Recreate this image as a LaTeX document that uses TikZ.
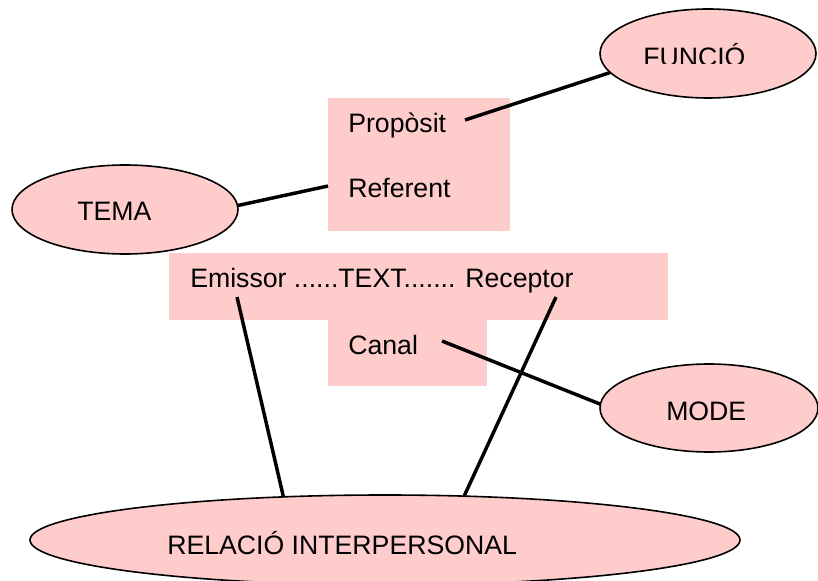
\documentclass[tikz,border=0pt]{standalone}
\usepackage{fontspec}
\setmainfont{Liberation Sans}
\usetikzlibrary{shapes.geometric}
\definecolor{rosa}{HTML}{FFCCCC}
\tikzset{
  oval/.style={ellipse, draw=black, line width=1.2pt, fill=rosa, inner sep=0pt, outer sep=0pt},
  tag/.style={anchor=base west, inner sep=0pt, font=\fontsize{20}{24}\selectfont},
  link/.style={draw=black, line width=2.6pt},
  panel/.style={fill=rosa}
}
\begin{document}
\begin{tikzpicture}[x=0.75pt, y=-0.75pt]
\useasboundingbox (0,0) rectangle (818,581);
\clip (0,0) rectangle (818,581);

% pink text panels
\fill[panel] (328,98) rectangle (510,231);
\fill[panel] (169,253) rectangle (668,320);
\fill[panel] (328,319) rectangle (487,386);

% ellipses
\node[oval, minimum width=162pt, minimum height=66.75pt] (funcio) at (708,53.5) {};
\node[oval, minimum width=169.5pt, minimum height=66.75pt] (tema) at (125,209.5) {};
\node[oval, minimum width=163.5pt, minimum height=66pt] (mode) at (709,408) {};
\node[oval, minimum width=532.5pt, minimum height=67.5pt] (relacio) at (385,540) {};

% connector starting points inside the panels
\coordinate (cProp) at (465,120);
\coordinate (cRef) at (328,186);
\coordinate (cEmi) at (237,297);
\coordinate (cRec) at (556,297);
\coordinate (cCan) at (442,341);

% connectors
\draw[link] (cProp) -- (funcio.191);
\draw[link] (cRef) -- (tema.2);
\draw[link] (cEmi) -- (relacio.157);
\draw[link] (cRec) -- (relacio.29);
\draw[link] (cCan) -- (mode.178);

% panel texts
\node[tag] (tProp) at (348,133) {Propòsit};
\node[tag] (tRef) at (348,198) {Referent};
\node[tag] (tText) at (190,287) {Emissor ......TEXT....... Receptor};
\node[tag] (tCan) at (348,354) {Canal};

% ellipse texts
\node[tag] (tTema) at (77,221) {TEMA};
\node[tag] (tMode) at (666,420) {MODE};
\node[tag] (tRel) at (167,554) {RELACIÓ INTERPERSONAL};
\begin{scope}
  \clip (600,0) rectangle (818,64);
  \node[tag] (tFunc) at (643,67) {FUNCIÓ};
\end{scope}
\end{tikzpicture}
\end{document}
